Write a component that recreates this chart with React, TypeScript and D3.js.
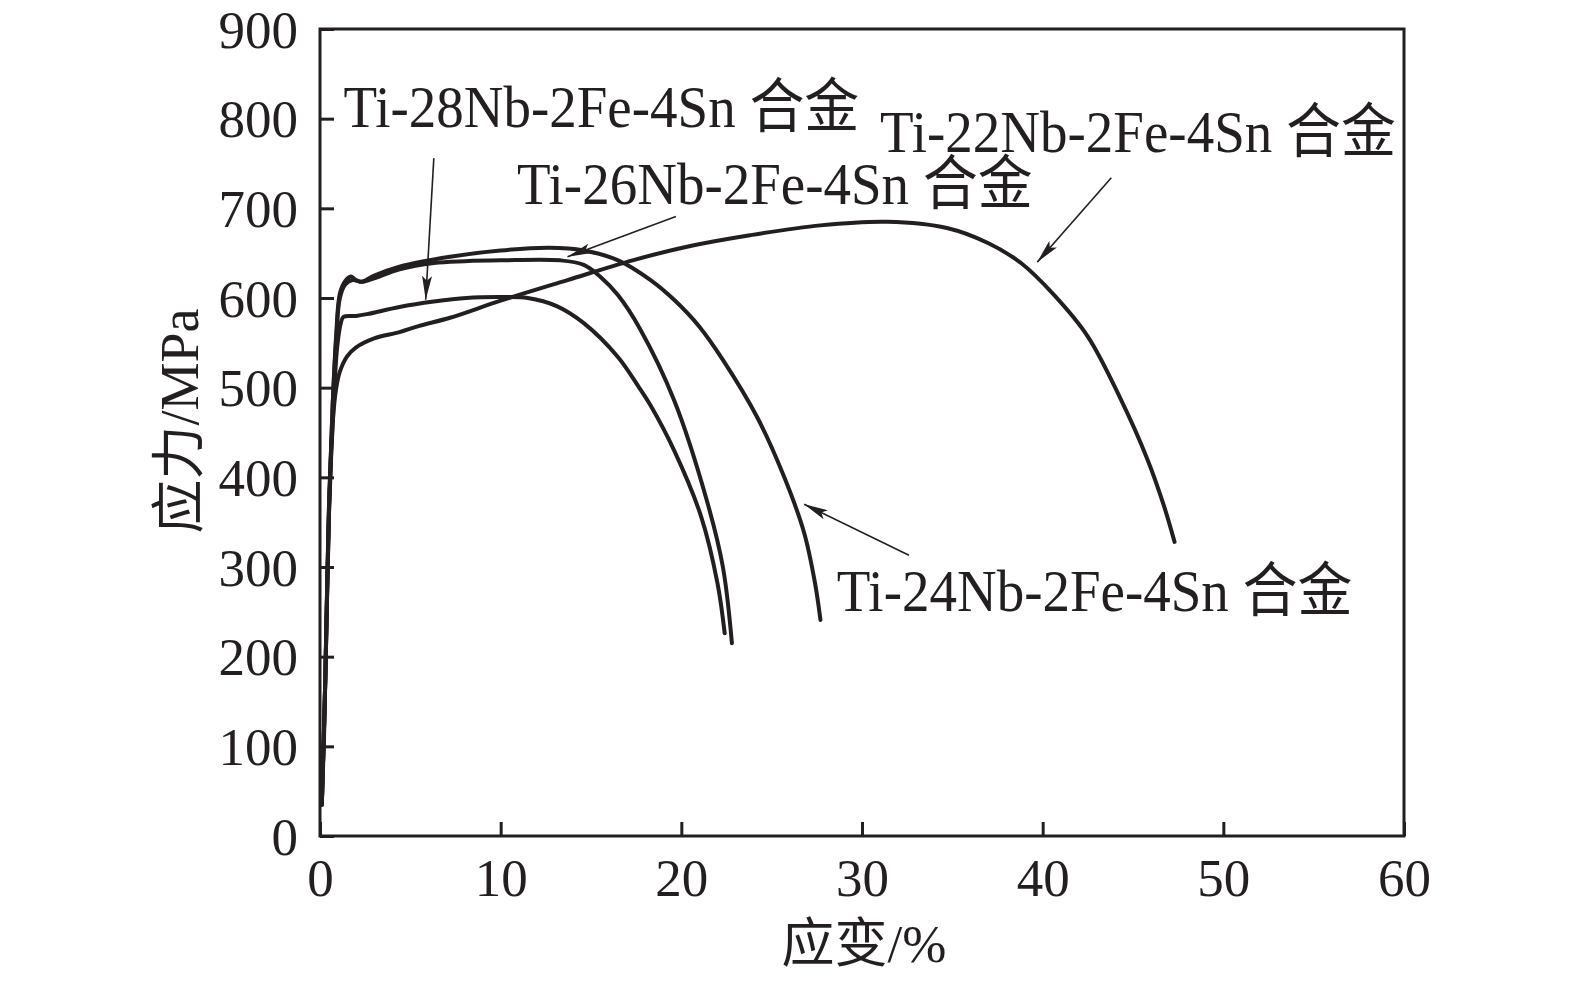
/*eslint-disable*/
import React, { useEffect, useRef } from 'react';
import * as d3 from 'd3';

// strain (%) and stress (MPa)
const strain22 = [0.1, 0.25, 0.45, 0.7, 0.9, 1.1, 1.5, 2.0, 3.0, 4.4, 5.5, 7.2, 10, 13.7, 17.3, 20.5, 23.8, 27.7, 31.4, 34.7, 37, 38.8, 40.6, 42.5, 44.3, 45.8, 46.7, 47.3];
const stress22 = [35, 130, 330, 460, 500, 518, 535, 545, 555, 562, 569, 578, 597, 620, 642, 658, 670, 681, 685, 678, 661, 639, 604, 557, 488, 420, 369, 328];

const strain24 = [0.1, 0.3, 0.5, 0.7, 0.9, 1.1, 1.4, 1.7, 2.0, 2.3, 3, 4.4, 7.2, 10, 12.7, 14.6, 16.5, 18.3, 19.6, 21, 22.3, 24.2, 25.7, 26.8, 27.4, 27.7];
const stress24 = [35, 180, 370, 480, 560, 605, 619, 624, 620, 618, 625, 635, 646, 653, 656, 653, 642, 620, 598, 568, 531, 467, 400, 338, 282, 241];

const strain26 = [0.1, 0.3, 0.5, 0.7, 0.9, 1.1, 1.4, 1.8, 2.3, 3, 4.4, 6.3, 8, 10, 13.3, 14.6, 15.5, 16.5, 17.7, 19.6, 21.4, 22.3, 22.8];
const stress26 = [35, 180, 370, 480, 555, 600, 615, 620, 618, 622, 632, 639, 641, 642, 642, 637, 624, 603, 566, 486, 375, 300, 215];

const strain28 = [0.1, 0.3, 0.5, 0.75, 0.95, 1.15, 1.3, 2.0, 2.6, 4.4, 6.3, 8.1, 10, 11.5, 13.1, 14.6, 16.5, 17.7, 18.3, 19.6, 21.1, 22.0, 22.4];
const stress28 = [35, 180, 360, 480, 545, 572, 579, 580, 582, 590, 596, 600, 601, 600, 591, 572, 534, 499, 480, 430, 356, 282, 226];

const xTicks = [0, 10, 20, 30, 40, 50, 60];
const yTicks = [0, 100, 200, 300, 400, 500, 600, 700, 800, 900];

// labels: text, text start (strain, stress), arrow tail, arrow tip
const labelNames = ['Ti-28Nb-2Fe-4Sn 合金', 'Ti-26Nb-2Fe-4Sn 合金', 'Ti-22Nb-2Fe-4Sn 合金', 'Ti-24Nb-2Fe-4Sn 合金'];
const labelAt = [[1.3, 791], [10.9, 705], [31.0, 763], [28.6, 251]];
const arrowFrom = [[6.3, 756], [19.7, 691], [43.8, 734], [32.6, 313]];
const arrowTo = [[5.85, 598], [13.7, 646], [39.7, 640], [26.8, 370]];

const FONT = '"Liberation Serif", "Times New Roman", "Noto Sans CJK SC", serif';
const INK = '#231f20';

const App: React.FC = () => {
  const svgRef = useRef<SVGSVGElement>(null);
  useEffect(() => {
    const W = 1575, H = 981;
    const svg = d3.select(svgRef.current).attr('width', W).attr('height', H);
    svg.selectAll('*').remove();

    const x = d3.scaleLinear().domain([0, 60]).range([320, 1404]);
    const y = d3.scaleLinear().domain([0, 900]).range([836, 29]);

    const defs = svg.append('defs');
    defs.append('marker')
      .attr('id', 'head')
      .attr('viewBox', '0 0 24 10')
      .attr('refX', 24).attr('refY', 5)
      .attr('markerWidth', 24).attr('markerHeight', 10)
      .attr('markerUnits', 'userSpaceOnUse')
      .attr('orient', 'auto')
      .append('path')
      .attr('d', 'M0,0 L24,5 L0,10 L5,5 Z')
      .attr('fill', INK);

    // axes
    const xAxis = svg.append('g')
      .attr('transform', `translate(0,${y(0)})`)
      .call(d3.axisBottom(x).tickValues(xTicks).tickSize(-14).tickPadding(22));
    const yAxis = svg.append('g')
      .attr('transform', `translate(${x(0)},0)`)
      .call(d3.axisLeft(y).tickValues(yTicks).tickSize(-14).tickPadding(22));
    [xAxis, yAxis].forEach(g => {
      g.select('.domain').remove();
      g.selectAll('line').attr('stroke', INK).attr('stroke-width', 3);
      g.selectAll('text').attr('fill', INK).attr('font-family', FONT).attr('font-size', 53);
    });
    yAxis.selectAll('text').attr('dy', '0.34em');

    svg.append('rect')
      .attr('x', x(0)).attr('y', y(900))
      .attr('width', x(60) - x(0)).attr('height', y(0) - y(900))
      .attr('fill', 'none').attr('stroke', INK).attr('stroke-width', 3);

    // curves
    const line = d3.line<[number, number]>()
      .x(d => x(d[0]))
      .y(d => y(d[1]))
      .curve(d3.curveCatmullRom.alpha(0.5));
    const series = [
      [strain22, stress22],
      [strain24, stress24],
      [strain26, stress26],
      [strain28, stress28],
    ];
    series.forEach(([xs, ys]) => {
      const pts = xs.map((v, i) => [v, ys[i]] as [number, number]);
      svg.append('path')
        .datum(pts)
        .attr('fill', 'none')
        .attr('stroke', INK)
        .attr('stroke-width', 4)
        .attr('stroke-linejoin', 'round')
        .attr('stroke-linecap', 'round')
        .attr('d', line);
    });

    // annotations
    labelNames.forEach((name, i) => {
      svg.append('line')
        .attr('x1', x(arrowFrom[i][0])).attr('y1', y(arrowFrom[i][1]))
        .attr('x2', x(arrowTo[i][0])).attr('y2', y(arrowTo[i][1]))
        .attr('stroke', INK).attr('stroke-width', 1.6)
        .attr('marker-end', 'url(#head)');
      svg.append('text')
        .attr('transform', `translate(${x(labelAt[i][0])},${y(labelAt[i][1])}) scale(1,1.08)`)
        .attr('font-family', FONT)
        .attr('font-size', 55)
        .attr('fill', INK)
        .text(name);
    });

    // axis titles
    svg.append('text')
      .attr('x', (x(0) + x(60)) / 2 + 2).attr('y', 944)
      .attr('text-anchor', 'middle')
      .attr('dominant-baseline', 'central')
      .attr('font-family', FONT).attr('font-size', 53).attr('fill', INK)
      .text('应变/%');
    svg.append('text')
      .attr('transform', `translate(180,421) rotate(-90)`)
      .attr('text-anchor', 'middle')
      .attr('dominant-baseline', 'central')
      .attr('font-family', FONT).attr('font-size', 54).attr('fill', INK)
      .text('应力/MPa');
  }, []);

  return (
    <svg ref={svgRef} style={{ position: 'absolute', left: 0, top: 0, background: '#fff' }}></svg>
  );
};

export default App;
